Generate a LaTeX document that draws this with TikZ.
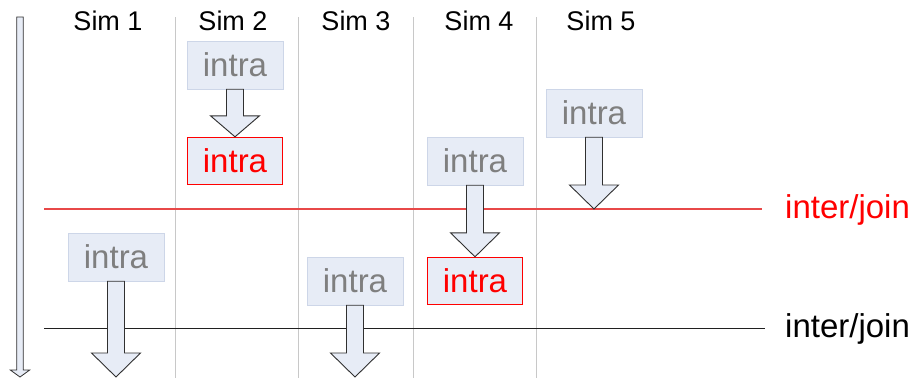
\documentclass[tikz,border=0pt]{standalone}
\usepackage{fontspec}
\setmainfont{Liberation Sans}
\usetikzlibrary{calc}
\definecolor{boxfill}{HTML}{E7ECF6}
\definecolor{boxline}{HTML}{CDD6E8}
\definecolor{intragray}{HTML}{7F7F7F}
\definecolor{sepgray}{HTML}{C8C8C8}
\definecolor{arrline}{HTML}{303030}
\definecolor{myred}{HTML}{FF0000}
\definecolor{redline}{HTML}{E84848}
\definecolor{blackline}{HTML}{202020}
\tikzset{
  intrabox/.style={draw=boxline, fill=boxfill, minimum width=96pt, minimum height=48pt, inner sep=0pt,
    text=intragray, font=\fontsize{33}{38}\selectfont},
  redbox/.style={intrabox, draw=none, fill=myred, text=myred,
    path picture={\fill[boxfill] ([shift={(1.2pt,1.2pt)}]path picture bounding box.south west)
      rectangle ([shift={(-1.2pt,-1.2pt)}]path picture bounding box.north east);}},
  simlabel/.style={anchor=base, inner sep=0pt, font=\fontsize{27}{31}\selectfont},
  joinlabel/.style={anchor=base west, inner sep=0pt, font=\fontsize{33}{38}\selectfont},
  sepline/.style={draw=sepgray, line width=1pt},
  blockarr/.style={draw=arrline, fill=boxfill, line width=0.9pt, line join=miter},
}
% block arrow from #1 down to #2 (x taken from #1); #3 head height
\newcommand{\blockdown}[3]{%
  \path[blockarr] let \p1=(#1), \p2=(#2) in
    (\x1-8.5,\y1) -- (\x1-8.5,\y2+#3) -- (\x1-24.5,\y2+#3) -- (\x1,\y2)
    -- (\x1+24.5,\y2+#3) -- (\x1+8.5,\y2+#3) -- (\x1+8.5,\y1) -- cycle;}
\begin{document}
\begin{tikzpicture}[x=1pt,y=-1pt]
\useasboundingbox (0,0) rectangle (918,378);
% separators
\foreach \sx in {175.5,298,413.5,536}{
  \draw[sepline] (\sx,17) -- (\sx,378);
}
% sim labels
\node[simlabel] (s1) at (108,30) {Sim 1};
\node[simlabel] (s2) at (233,30) {Sim 2};
\node[simlabel] (s3) at (356,30) {Sim 3};
\node[simlabel] (s4) at (479,30) {Sim 4};
\node[simlabel] (s5) at (601,30) {Sim 5};
% join lines
\coordinate (rl) at (44,209);
\coordinate (rr) at (762,209);
\coordinate (bl) at (44,328);
\coordinate (br) at (765,328);
\fill[redline] ([yshift=0.6pt]rl) rectangle ([yshift=-0.6pt]rr);
\draw[draw=blackline, line width=1pt] (bl) -- (br);
\node[joinlabel, text=myred] (j1) at (785,218) {inter/join};
\node[joinlabel] (j2) at (785,337) {inter/join};
% boxes
\node[intrabox] (a2) at (235,65) {intra};
\node[redbox] (b2) at (235,161) {intra};
\node[intrabox] (a5) at (594,113) {intra};
\node[intrabox] (a4) at (475,161) {intra};
\node[redbox] (b4) at (475,281) {intra};
\node[intrabox] (a1) at (116,257) {intra};
\node[intrabox] (a3) at (355,281) {intra};
\coordinate (e5) at (594,209);
\coordinate (e1) at (116,377);
\coordinate (e3) at (355,377);
% block arrows
\blockdown{a2.south}{b2.north}{21}
\blockdown{a4.south}{b4.north}{24}
\blockdown{a5.south}{e5}{24}
\blockdown{a1.south}{e1}{24}
\blockdown{a3.south}{e3}{24}
% time arrow
\coordinate (t0) at (20,17);
\coordinate (t1) at (20,377);
\path[blockarr, line width=0.8pt] let \p1=(t0), \p2=(t1) in
  (\x1-3.3,\y1) -- (\x1-3.3,\y2+7) -- (\x1-9.7,\y2+7) -- (\x1,\y2)
  -- (\x1+9.7,\y2+7) -- (\x1+3.3,\y2+7) -- (\x1+3.3,\y1) -- cycle;
\end{tikzpicture}
\end{document}
